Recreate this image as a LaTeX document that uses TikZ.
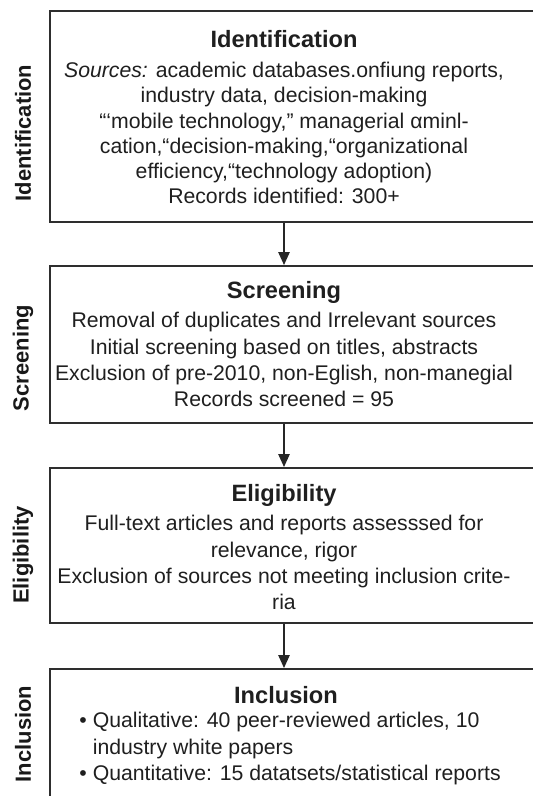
\documentclass[tikz,border=0pt]{standalone}
\usepackage{fontspec}
\setmainfont{Liberation Sans}
\usetikzlibrary{arrows.meta,positioning}

\begin{document}
\begin{tikzpicture}[
  stagebox/.style={draw=black!82, line width=1.4pt, fill=white,
    minimum width=12.35cm, inner sep=0pt},
  stagetext/.style={align=center, text=black!88, inner sep=0pt,
    font=\fontsize{15.1}{18}\selectfont},
  sidelabel/.style={rotate=90, text=black!90, inner sep=0pt,
    font=\fontsize{15.6}{19}\selectfont\bfseries},
  flow/.style={-{Triangle[length=3.2mm, width=2.8mm]}, line width=1.1pt, draw=black!85}
]
\useasboundingbox (0,0) rectangle (13.3,-19.9);
\fill[white] (0,0) rectangle (13.3,-19.9);

% the four stages
\node[stagebox, minimum height=5.275cm] (idbox) at (7.425,-2.9125) {};
\node[stagebox, minimum height=3.925cm] (scrbox) at (7.425,-8.6125) {};
\node[stagebox, minimum height=3.875cm] (elbox) at (7.425,-13.6375) {};
\node[stagebox, minimum height=3.775cm] (incbox) at (7.425,-18.6125) {};

\node[stagetext] (idtext) at (7.1,-2.93) {{\fontsize{16.8}{19}\selectfont\bfseries Identification}\\[0.12cm]
  \textit{Sources:} academic databases.onfiung reports,\\
  industry data, decision-making\\
  “‘mobile technology,” managerial αminl-\\
  cation,“decision-making,“organizational\\
  efficiency,“technology adoption)\\
  Records identified: 300+};
\node[stagetext] (scrtext) at (7.1,-8.6) {{\fontsize{16.8}{19}\selectfont\bfseries Screening}\\[0.1cm]
  Removal of duplicates and Irrelevant sources\\[0.02cm]
  Initial screening based on titles, abstracts\\[0.02cm]
  Exclusion of pre-2010, non-Eglish, non-manegial\\[0.02cm]
  Records screened = 95};
\node[stagetext] (eltext) at (7.1,-13.675) {{\fontsize{16.8}{19}\selectfont\bfseries Eligibility}\\[0.1cm]
  Full-text articles and reports assesssed for\\[0.02cm]
  relevance, rigor\\[0.02cm]
  Exclusion of sources not meeting inclusion crite-\\[0.02cm]
  ria};
\node[stagetext] (inctitle) at (7.15,-17.38) {\fontsize{16.8}{19}\selectfont\bfseries Inclusion};
\node[stagetext, align=left, anchor=north west] (inclist) at (1.98,-17.8)
  {• Qualitative: 40 peer-reviewed articles, 10\\[0.03cm]
  \phantom{• }industry white papers\\[0.03cm]
  • Quantitative: 15 datatsets/statistical reports};

% labels on the left
\node[sidelabel] (idlabel) at (0.575,-3.325) {Identification};
\node[sidelabel] (scrlabel) at (0.575,-8.95) {Screening};
\node[sidelabel] (ellabel) at (0.575,-13.875) {Eligibility};
\node[sidelabel] (inclabel) at (0.575,-18.35) {Inclusion};

\draw[flow] (idbox.south -| idtext) -- (scrbox.north -| idtext);
\draw[flow] (scrbox.south -| idtext) -- (elbox.north -| idtext);
\draw[flow] (elbox.south -| idtext) -- (incbox.north -| idtext);
\end{tikzpicture}
\end{document}
